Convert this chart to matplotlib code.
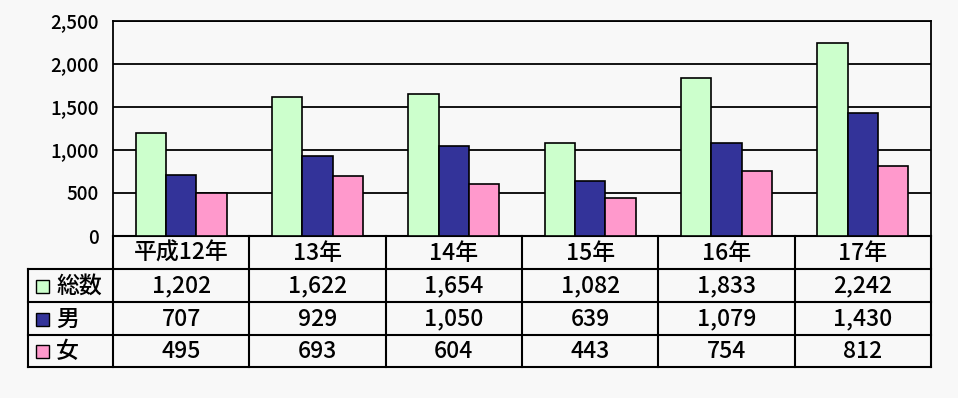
import matplotlib.pyplot as plt
from matplotlib.patches import Rectangle
from matplotlib.transforms import blended_transform_factory

plt.rcParams['font.family'] = ['Noto Sans CJK JP', 'DejaVu Sans']

years = ['平成12年', '13年', '14年', '15年', '16年', '17年']
series_names = ['総数', '男', '女']
total = [1202, 1622, 1654, 1082, 1833, 2242]
male = [707, 929, 1050, 639, 1079, 1430]
female = [495, 693, 604, 443, 754, 812]
colors = ['#ccffcc', '#333399', '#ff99cc']
yticks = [0, 500, 1000, 1500, 2000, 2500]

bg = '#f8f8f8'
fig = plt.figure(figsize=(9.58, 3.98), dpi=100, facecolor=bg)
ax = fig.add_axes([113/958, (398-236)/398, 818/958, 215/398])
ax.set_facecolor(bg)

series = [total, male, female]
w = 0.222
x = list(range(len(years)))
for i, vals in enumerate(series):
    ax.bar([xi + (i - 1) * w for xi in x], vals, width=w, color=colors[i],
           edgecolor='black', linewidth=1.2, zorder=3)

ax.set_xlim(-0.5, len(years) - 0.5)
ax.set_ylim(0, 2500)
ax.set_yticks(yticks)
ax.set_yticklabels([f'{v:,}' for v in yticks], fontsize=13.5, fontweight='medium')
ax.tick_params(axis='y', length=0, pad=10)
ax.set_xticks([])
ax.grid(axis='y', color='black', linewidth=1.3, zorder=0)
for s in ax.spines.values():
    s.set_color('black')
    s.set_linewidth(1.3)

# data table below the plot
tr = blended_transform_factory(ax.transData, ax.transAxes)
px = 215.0


def ya(py):
    return (236 - py) / px


rows_py = [236, 269, 302, 335, 367]
left_x = -0.5 - (113 - 28) / (818 / len(years))
lw = 1.5
kw = dict(color='black', linewidth=lw, transform=tr, clip_on=False)

# horizontal lines
ax.plot([-0.5, 5.5], [ya(236), ya(236)], **kw)
for py in rows_py[1:]:
    ax.plot([left_x, 5.5], [ya(py), ya(py)], **kw)
# vertical lines
ax.plot([left_x, left_x], [ya(269), ya(367)], **kw)
for k in range(len(years) + 1):
    xb = k - 0.5
    ax.plot([xb, xb], [ya(236), ya(367)], **kw)

fs = 16.5
# header
for k, yl in enumerate(years):
    ax.text(k, ya(253), yl, transform=tr, ha='center', va='center', fontsize=fs,
            fontweight='medium')

# rows
for r, (name, vals) in enumerate(zip(series_names, series)):
    yc = ya((rows_py[r + 1] + rows_py[r + 2]) / 2 + 0.5)
    xs = left_x + 8 / 136.33
    ax.add_patch(Rectangle((xs, yc - 6.5 / px), 13 / 136.33, 13 / px, transform=tr,
                           facecolor=colors[r], edgecolor='black', linewidth=1,
                           clip_on=False))
    ax.text(left_x + 28 / 136.33, yc, name, transform=tr, ha='left', va='center',
            fontsize=fs, fontweight='medium')
    for k, v in enumerate(vals):
        ax.text(k, yc, f'{v:,}', transform=tr, ha='center', va='center', fontsize=fs,
                fontweight='medium')

fig.savefig('out.png', dpi=100, facecolor=bg)
